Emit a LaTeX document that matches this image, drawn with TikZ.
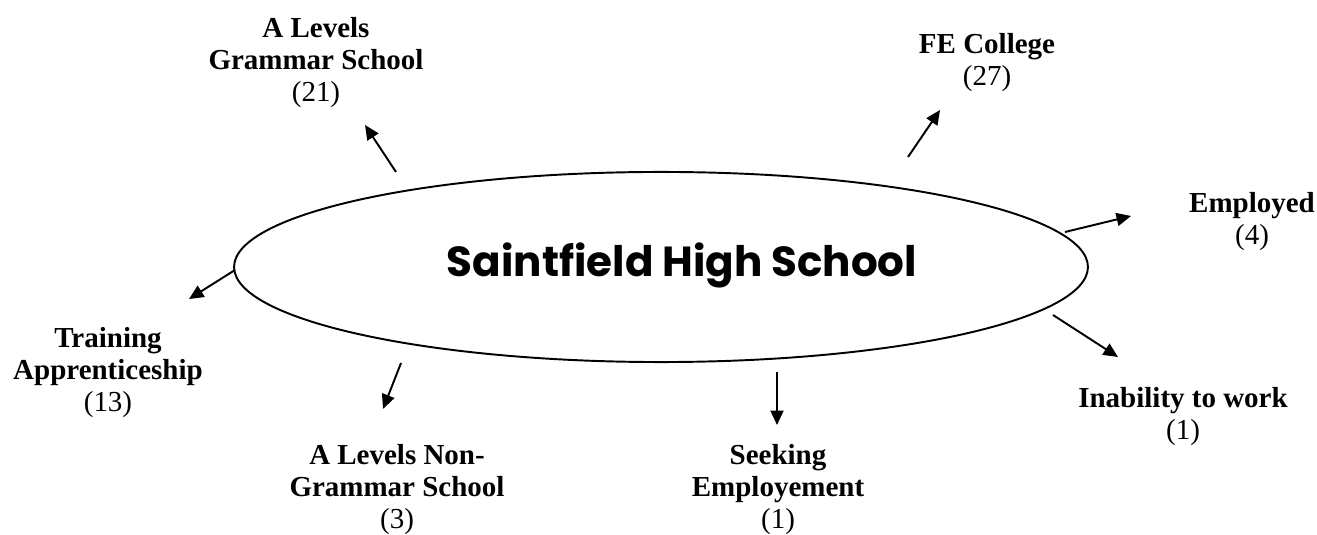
\documentclass[tikz,border=0pt]{standalone}
\usepackage{fontspec}
\usepackage{graphicx}
\setmainfont{Liberation Serif}
\newfontfamily\titlefont{Poppins}
\usetikzlibrary{arrows.meta,shapes.geometric}
\begin{document}
\begin{tikzpicture}[x=0.414pt,y=-0.414pt,
  lbl/.style={align=center, anchor=north, inner sep=0pt, font=\fontsize{12}{13.2}\selectfont},
  arr/.style={line width=0.8pt, -{Triangle[length=6pt,width=5.4pt]}},
  oval/.style={draw, ellipse, line width=0.8pt, inner sep=0pt, minimum width=353.5pt, minimum height=78.7pt}]
\useasboundingbox (0,0) rectangle (1317,535);
% central ellipse and title
\node[oval] (school) at (661,267) {};
\node[inner sep=0pt] (title) at (682,265) {\resizebox{194.6pt}{!}{\titlefont\bfseries Saintfield High School}};
% destination labels
\node[lbl] (alg) at (316,17) {\textbf{A Levels}\\\textbf{Grammar School}\\(21)};
\node[lbl] (fe) at (987,33) {\textbf{FE College}\\(27)};
\node[lbl] (emp) at (1252,192) {\textbf{Employed}\\(4)};
\node[lbl] (tra) at (108,327) {\textbf{Training}\\\textbf{Apprenticeship}\\(13)};
\node[lbl] (alng) at (397,444) {\textbf{A Levels Non-}\\\textbf{Grammar School}\\(3)};
\node[lbl] (seek) at (778,444) {\textbf{Seeking}\\\textbf{Employement}\\(1)};
\node[lbl] (inab) at (1183,387) {\textbf{Inability to work}\\(1)};
% arrow end points
\coordinate (s1) at (396,172); \coordinate (t1) at (365,125);
\coordinate (s2) at (908,157); \coordinate (t2) at (940,110);
\coordinate (s3) at (1065,232); \coordinate (t3) at (1131,216);
\coordinate (s4) at (235,270); \coordinate (t4) at (189,299);
\coordinate (s5) at (401,363); \coordinate (t5) at (383,409);
\coordinate (s6) at (777,372); \coordinate (t6) at (777,425);
\coordinate (s7) at (1053,315); \coordinate (t7) at (1118,357);
\draw[arr] (s1) -- (t1);
\draw[arr] (s2) -- (t2);
\draw[arr] (s3) -- (t3);
\draw[arr] (s4) -- (t4);
\draw[arr] (s5) -- (t5);
\draw[arr] (s6) -- (t6);
\draw[arr] (s7) -- (t7);
\end{tikzpicture}
\end{document}
